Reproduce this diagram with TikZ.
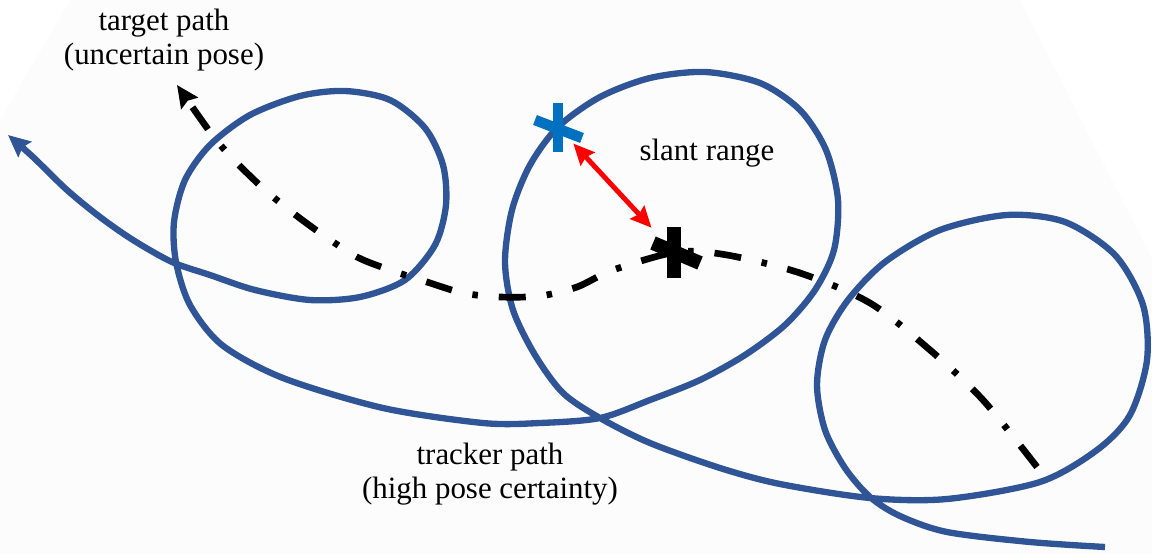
\documentclass[tikz,border=0pt]{standalone}
\usepackage{fontspec}
\setmainfont{Liberation Serif}
\newfontfamily\labelfont{Liberation Serif}
\usetikzlibrary{arrows.meta}

\definecolor{trackblue}{RGB}{47,85,151}
\definecolor{markblue}{RGB}{0,112,192}
\definecolor{paper}{RGB}{252,252,253}

\tikzset{
  trackpath/.style={trackblue, line width=3.6pt, line join=round},
  targetpath/.style={black, line width=3.8pt,
    dash pattern=on 0.54cm off 0.42cm on 0.11cm off 0.42cm},
  tip/.style={-{Stealth[length=0.44cm, width=0.4cm, inset=0.06cm]}},
  rangearrow/.style={red, line width=2.8pt,
    {Stealth[length=0.42cm, width=0.38cm, inset=0.05cm]}-{Stealth[length=0.42cm, width=0.38cm, inset=0.05cm]}},
  trackmark/.style={markblue, line width=6pt},
  targetmark/.style={black, line width=8pt},
  lbl/.style={align=center, inner sep=0pt, font=\labelfont\fontsize{17.6}{19.4}\selectfont},
}

\begin{document}
\begin{tikzpicture}[x=0.02cm, y=-0.02cm]
\useasboundingbox (0,0) rectangle (1152,554);

% faint paper behind the sketch
\fill[paper] (70,0) -- (1020,0) -- (1152,258) -- (1152,554) -- (0,554) -- (0,120) -- cycle;

% tracker path
\draw[trackpath, tip] plot[smooth] coordinates {
(1105,547) (1030,542) (947,532) (900,516) (870,497) (845,468) (825,430)
(817,385) (825,340) (848,300) (885,262) (940,230) (1007,215) (1065,222)
(1115,255) (1143,305) (1147,360) (1130,415) (1097,450) (1040,482) (947,499)
(870,498) (780,484) (720,468) (650,443) (600,418) (563,393) (535,355)
(513,310) (505,262) (512,210) (530,165) (558,127) (600,97) (650,78)
(705,72) (760,83) (800,110) (826,150) (838,200) (834,250) (815,290)
(785,325) (745,355) (700,380) (650,400) (600,418) (540,423) (483,423)
(383,408) (283,378) (222,345) (190,305) (176,262) (174,222) (185,180)
(210,145) (250,115) (300,96) (345,91) (390,100) (425,128) (443,165)
(446,205) (435,245) (405,280) (360,297) (310,300) (255,290) (210,275)
(172,262) (133,240) (100,217) (67,190) (33,157) (8,135)
};

% target path
\draw[targetpath, tip] plot[smooth] coordinates {
(1037,467) (983,400) (930,350) (870,303) (800,273) (727,255) (677,252)
(613,270) (577,287) (540,296) (500,297) (463,293) (427,282) (390,270)
(357,257) (323,235) (293,213) (265,190) (237,163) (213,136) (177,85)
};

% markers
\coordinate (tracker) at (558,127);
\coordinate (target) at (674,252);

\draw[trackmark] ([shift={(0,-24)}]tracker) -- ([shift={(0,25)}]tracker);
\draw[trackmark] ([shift={(-23,-7)}]tracker) -- ([shift={(24,11)}]tracker);

\draw[targetmark] ([shift={(0,-25)}]target) -- ([shift={(0,26)}]target);
\draw[targetmark] ([shift={(-21,-9)}]target) -- ([shift={(26,11)}]target);

% slant range
\draw[rangearrow, shorten <=0.45cm, shorten >=0.66cm] (tracker) -- (target);

% labels
\node[lbl] (targetlbl) at (164,40) {target path\\(uncertain pose)};
\node[lbl] (slantlbl) at (707,153) {slant range};
\node[lbl] (trackerlbl) at (490,474) {tracker path\\(high pose certainty)};

\end{tikzpicture}
\end{document}
